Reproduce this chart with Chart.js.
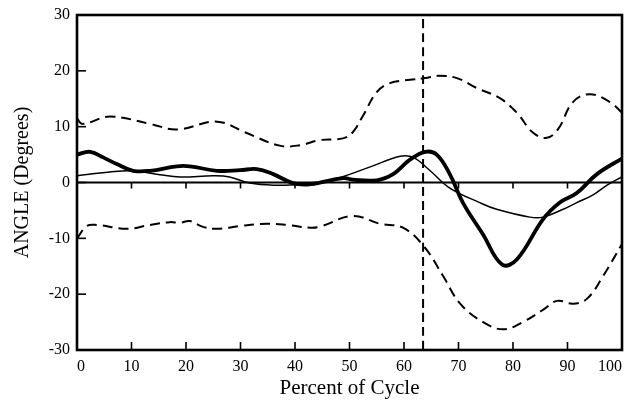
<!DOCTYPE html>
<html>
<head>
<meta charset="utf-8">
<script src="https://cdn.jsdelivr.net/npm/chart.js@4/dist/chart.umd.min.js"></script>
<style>
    html, body { margin: 0; padding: 0; background: #fff; }
    #wrap { width: 629px; height: 402px; }
</style>
</head>
<body>
<div id="wrap"><canvas id="angleChart" width="629" height="402"></canvas></div>
<script>
// Percent of cycle / angle values
const upperX = [0, 1, 6, 13.4, 18.3, 25.7, 30.8, 37.2, 41, 44.6, 48.8, 50.6, 52.5, 55, 57.4, 61.1, 63.9, 66.2, 69.7, 73.4, 77.6, 80.7, 83.7, 86.2, 88.3, 91, 94.1, 97.8, 100];
const upperY = [11.5, 10.5, 11.8, 10.5, 9.5, 10.9, 9.0, 6.6, 6.7, 7.6, 7.9, 9.0, 12.0, 16.2, 17.8, 18.4, 18.7, 19.1, 18.7, 16.9, 15.1, 12.5, 8.9, 8.0, 9.6, 14.4, 15.8, 14.4, 12.5];

const lowerX = [0, 1.8, 3.6, 9.2, 13.4, 17, 18.9, 20.7, 23, 25.7, 29.9, 34.9, 38.5, 42.8, 44.6, 50.6, 55.6, 59.8, 63.7, 67.2, 70.3, 74.5, 78.2, 81.8, 85.5, 88.1, 91, 93.6, 96.5, 100];
const lowerY = [-10, -7.8, -7.6, -8.3, -7.6, -7.1, -7.2, -6.9, -7.9, -8.3, -7.8, -7.4, -7.6, -8.1, -7.9, -6.0, -7.4, -8.1, -11.5, -16.8, -21.7, -25, -26.3, -25, -22.8, -21.2, -21.7, -20.8, -16.8, -11];

const thickX = [0, 2.4, 4.8, 7.3, 10.3, 13.4, 18.3, 20.7, 25.7, 29.9, 33, 36, 39.6, 42.8, 48.8, 50.6, 55, 58, 61.1, 63.9, 66, 68.4, 70.8, 74.5, 78, 80.7, 85.5, 88.6, 91.7, 95.4, 100];
const thickY = [5.0, 5.5, 4.5, 3.3, 2.1, 2.1, 2.9, 2.9, 2.1, 2.2, 2.4, 1.5, -0.1, -0.3, 0.8, 0.5, 0.4, 1.5, 4.1, 5.5, 5.0, 1.5, -3.6, -9.3, -14.7, -13.8, -6.6, -3.6, -1.9, 1.5, 4.3];

const thinX = [0, 6, 10.3, 15.2, 18.9, 25, 28, 31.7, 36.7, 40.9, 42.8, 48.3, 53.8, 59.3, 61.7, 64.8, 68.4, 73.9, 77, 83.1, 85.5, 89.2, 91.7, 94.7, 97.2, 100];
const thinY = [1.2, 1.9, 2.1, 1.4, 1.0, 1.2, 1.0, -0.1, -0.5, -0.4, -0.5, 0.9, 2.8, 4.7, 4.5, 2.1, -1.0, -3.6, -4.8, -6.2, -6.2, -4.8, -3.6, -2.2, -0.5, 1.0];

const markerX = 63.5;      // vertical dashed line
const xTicks = [0, 10, 20, 30, 40, 50, 60, 70, 80, 90, 100];
const yTicks = [-30, -20, -10, 0, 10, 20, 30];

const serif = "'Liberation Serif', 'DejaVu Serif', serif";

function pts(xs, ys) {
    return xs.map((x, i) => ({ x: x, y: ys[i] }));
}

function curve(xs, ys, width, dash) {
    return {
        data: pts(xs, ys),
        showLine: true,
        borderColor: "#000",
        borderWidth: width,
        borderDash: dash,
        pointRadius: 0,
        tension: 0.4,
        fill: false
    };
}

// frame + inner tick marks, drawn on top
const framePlugin = {
    id: "frame",
    afterDatasetsDraw(chart) {
        const { ctx, chartArea: a, scales } = chart;
        const xs = scales.x, ys = scales.y;
        const zeroY = ys.getPixelForValue(0);
        ctx.save();
        ctx.strokeStyle = "#000";
        ctx.lineWidth = 1.6;
        xTicks.slice(1, -1).forEach(v => {
            const px = xs.getPixelForValue(v);
            ctx.beginPath();
            ctx.moveTo(px, zeroY);
            ctx.lineTo(px, zeroY + 6);
            ctx.moveTo(px, a.bottom);
            ctx.lineTo(px, a.bottom - 8);
            ctx.stroke();
        });
        yTicks.slice(1, -1).forEach(v => {
            const py = ys.getPixelForValue(v);
            ctx.beginPath();
            ctx.moveTo(a.left, py);
            ctx.lineTo(a.left + 9, py);
            ctx.stroke();
        });
        ctx.lineWidth = 2.6;
        ctx.strokeRect(a.left, a.top, a.right - a.left, a.bottom - a.top);
        ctx.restore();
    }
};

new Chart(document.getElementById("angleChart"), {
    type: "scatter",
    data: {
        datasets: [
            curve([0, 100], [0, 0], 2, []),
            curve(upperX, upperY, 2, [10, 6]),
            curve(lowerX, lowerY, 2, [10, 6]),
            curve(thinX, thinY, 1.5, []),
            curve(thickX, thickY, 3.8, []),
            curve([markerX, markerX], [-30, 30], 2, [9, 5])
        ]
    },
    options: {
        responsive: false,
        animation: false,
        layout: { padding: { top: 15, right: 7, left: 0, bottom: 0 } },
        plugins: {
            legend: { display: false },
            tooltip: { enabled: false }
        },
        scales: {
            x: {
                type: "linear",
                min: 0,
                max: 100,
                afterFit: s => { s.height = 52; s.paddingLeft = 0; s.paddingRight = 0; },
                afterBuildTicks: s => { s.ticks = xTicks.map(v => ({ value: v })); },
                grid: { display: false, drawTicks: false },
                border: { display: false },
                ticks: { color: "#000", padding: 7, maxRotation: 0, align: "inner", font: { family: serif, size: 16 } },
                title: {
                    display: true,
                    text: "Percent of Cycle",
                    color: "#000",
                    padding: { top: 0, bottom: 1 },
                    font: { family: serif, size: 21 }
                }
            },
            y: {
                type: "linear",
                min: -30,
                max: 30,
                afterFit: s => { s.width = 77; s.paddingTop = 0; s.paddingBottom = 0; },
                afterBuildTicks: s => { s.ticks = yTicks.map(v => ({ value: v })); },
                grid: { display: false, drawTicks: false },
                border: { display: false },
                ticks: { color: "#000", padding: 7, font: { family: serif, size: 16 } },
                title: {
                    display: true,
                    text: "ANGLE (Degrees)",
                    color: "#000",
                    padding: { top: 11, bottom: 0 },
                    font: { family: serif, size: 20 }
                }
            }
        }
    },
    plugins: [framePlugin]
});
</script>
</body>
</html>
